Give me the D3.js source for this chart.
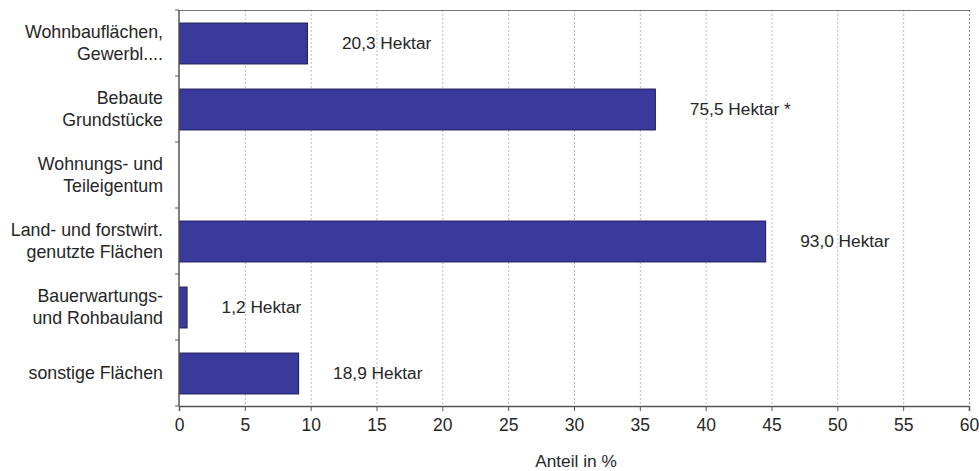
<!DOCTYPE html>
<html>
<head>
<meta charset="utf-8">
<script src="https://cdn.jsdelivr.net/npm/d3@7"></script>
<style>
  html, body { margin: 0; padding: 0; background: #fff; }
  svg { display: block; font-family: "Liberation Sans", Arial, sans-serif; }
</style>
</head>
<body>
<svg id="chart" width="979" height="471"></svg>
<script>
// Flächenarten (zweizeilige Beschriftung)
const categories = [
  ["Wohnbauflächen,", "Gewerbl...."],
  ["Bebaute", "Grundstücke"],
  ["Wohnungs- und", "Teileigentum"],
  ["Land- und forstwirt.", "genutzte Flächen"],
  ["Bauerwartungs-", "und Rohbauland"],
  ["sonstige Flächen"]
];
// Umgesetzte Fläche in Hektar (kein Wert bei Wohnungs- und Teileigentum)
const hectares = [20.3, 75.5, null, 93.0, 1.2, 18.9];
// Fußnotenzeichen je Kategorie
const notes = ["", " *", "", "", "", ""];
// Achsenbeschriftung
const xTicks = [0, 5, 10, 15, 20, 25, 30, 35, 40, 45, 50, 55, 60];
const xTitle = "Anteil in %";

const W = 979, H = 471;
const margin = { top: 10, right: 10, bottom: 65, left: 179 };
const iw = W - margin.left - margin.right;
const ih = H - margin.top - margin.bottom;

const total = d3.sum(hectares.filter(v => v != null));
const share = hectares.map(v => v == null ? null : v / total * 100);
const fmt = v => v.toFixed(1).replace(".", ",");

const svg = d3.select("#chart");
const g = svg.append("g").attr("transform", `translate(${margin.left},${margin.top})`);

const x = d3.scaleLinear().domain([0, 60]).range([0, iw]);
const y = d3.scaleBand().domain(d3.range(categories.length)).range([0, ih])
  .paddingInner(0.38).paddingOuter(0.19);

// vertical dotted gridlines
g.append("g").selectAll("line").data(xTicks.filter(t => t > 0)).join("line")
  .attr("x1", d => x(d) + 0.5).attr("x2", d => x(d) + 0.5)
  .attr("y1", 0).attr("y2", ih)
  .attr("stroke", d => d === 60 ? "#888" : "#bbb")
  .attr("stroke-width", 1)
  .attr("stroke-dasharray", "2,2");

// top frame line
g.append("line").attr("x1", 0).attr("x2", iw).attr("y1", 0.5).attr("y2", 0.5)
  .attr("stroke", "#777").attr("stroke-width", 1.2);

// bars
g.append("g").selectAll("rect").data(share.map((v, i) => ({ v, i })).filter(d => d.v != null)).join("rect")
  .attr("x", x(0) + 0.5)
  .attr("y", d => y(d.i) + 0.5)
  .attr("width", d => x(d.v) - x(0))
  .attr("height", y.bandwidth())
  .attr("fill", "#3a3a9c")
  .attr("stroke", "#1c1c55")
  .attr("stroke-width", 1);

// value labels
g.append("g").selectAll("text").data(share.map((v, i) => ({ v, i })).filter(d => d.v != null)).join("text")
  .attr("x", d => x(d.v) + 35)
  .attr("y", d => y(d.i) + y.bandwidth() / 2)
  .attr("dy", "0.35em")
  .attr("font-size", 17.3)
  .attr("fill", "#262626")
  .text(d => fmt(hectares[d.i]) + " Hektar" + notes[d.i]);

// x axis
const xAxis = d3.axisBottom(x).tickValues(xTicks).tickSize(5).tickPadding(8).tickFormat(d3.format("d"));
const ax = g.append("g").attr("transform", `translate(0,${ih})`).call(xAxis);
ax.select(".domain").attr("stroke", "#555").attr("stroke-width", 1.5);
ax.selectAll(".tick line").attr("stroke", "#555");
ax.selectAll(".tick text").attr("font-size", 17.5).attr("fill", "#262626")
  .attr("font-family", "Liberation Sans, Arial, sans-serif");

// y axis line with ticks at category boundaries
g.append("line").attr("x1", 0).attr("x2", 0).attr("y1", 0).attr("y2", ih)
  .attr("stroke", "#555").attr("stroke-width", 1.5);
g.append("g").selectAll("line").data(d3.range(categories.length + 1)).join("line")
  .attr("x1", -4).attr("x2", 0)
  .attr("y1", d => d * y.step()).attr("y2", d => d * y.step())
  .attr("stroke", "#555").attr("stroke-width", 1);

// category labels
const lineH = 21.5;
g.append("g").selectAll("text").data(categories).join("text")
  .attr("text-anchor", "end")
  .attr("font-size", 17.8)
  .attr("fill", "#262626")
  .attr("transform", (d, i) => `translate(-16,${y(i) + y.bandwidth() / 2})`)
  .selectAll("tspan").data(d => d.map((s, k) => ({ s, k, n: d.length }))).join("tspan")
  .attr("x", 0)
  .attr("y", d => (d.k - (d.n - 1) / 2) * lineH)
  .attr("dy", "0.35em")
  .text(d => d.s);

// x axis title
svg.append("text")
  .attr("x", margin.left + iw / 2 + 2)
  .attr("y", 461)
  .attr("dy", "0.35em")
  .attr("text-anchor", "middle")
  .attr("font-size", 17.3)
  .attr("fill", "#262626")
  .text(xTitle);
</script>
</body>
</html>
